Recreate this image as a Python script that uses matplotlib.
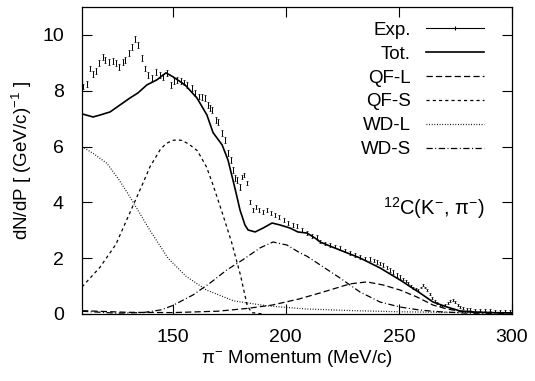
import matplotlib.pyplot as plt
from matplotlib.lines import Line2D

plt.rcParams['font.family'] = ['Liberation Sans', 'DejaVu Sans']
plt.rcParams['mathtext.fontset'] = 'custom'
plt.rcParams['mathtext.rm'] = 'Liberation Sans'
plt.rcParams['mathtext.it'] = 'Liberation Sans:italic'
plt.rcParams['mathtext.bf'] = 'Liberation Sans:bold'

exp_x = [110.5, 112.2, 113.5, 114.9, 116.2, 117.5, 119.3, 120.2, 121.9, 123.7,
         125.0, 126.3, 128.1, 129.0, 130.8, 132.1, 133.4, 134.7, 136.5, 137.8,
         139.2, 140.9, 142.7, 144.5, 145.8, 147.6, 149.3, 150.7, 152.0, 153.7,
         155.1, 156.4, 158.6, 159.9, 161.7, 163.0, 164.4, 165.7, 166.6, 167.4,
         169.2, 170.1, 171.9, 173.2, 174.5, 175.8, 176.7, 177.6, 178.5, 179.8,
         180.7, 181.6, 182.9, 184.2, 185.6, 186.9, 188.2, 190.0, 191.8, 193.5,
         195.3, 197.1, 199.3, 201.0, 203.2, 205.0, 207.2, 209.4, 211.6, 213.8,
         215.2, 217.5, 219.6, 222.0, 224.0, 226.2, 228.4, 230.6, 232.8, 235.0,
         237.3, 239.0, 240.4, 241.7, 243.0, 244.6, 246.1, 247.6, 249.2, 250.5,
         251.8, 253.0, 254.1, 255.2, 256.3, 257.4, 258.5, 259.6, 260.7, 261.6,
         262.5, 263.6, 264.7, 265.8, 266.9, 268.0, 269.1, 270.4, 271.7, 272.8,
         273.9, 275.0, 276.1, 277.2, 278.4, 280.0, 281.5, 283.5, 285.9, 288.0,
         290.3, 292.5, 294.7, 297.0, 299.1]
exp_y = [8.15, 8.24, 8.80, 8.60, 8.70, 9.00, 9.20, 9.10, 9.03, 9.07,
         9.00, 8.85, 9.03, 9.10, 9.35, 9.57, 9.85, 9.64, 9.17, 8.80,
         8.57, 8.46, 8.67, 8.57, 8.50, 8.64, 8.20, 8.35, 8.39, 8.35,
         8.30, 8.20, 8.10, 7.92, 7.80, 7.78, 7.74, 7.49, 7.38, 7.31,
         6.95, 6.88, 6.49, 6.24, 5.77, 5.52, 5.16, 4.87, 4.80, 4.55,
         4.91, 4.98, 4.70, 4.01, 3.73, 3.84, 3.73, 3.66, 3.73, 3.62,
         3.55, 3.48, 3.37, 3.26, 3.19, 3.15, 3.01, 2.90, 2.80, 2.76,
         2.60, 2.52, 2.47, 2.42, 2.37, 2.28, 2.19, 2.12, 2.04, 2.00,
         1.97, 1.92, 1.86, 1.81, 1.76, 1.67, 1.58, 1.50, 1.40, 1.33,
         1.25, 1.18, 1.11, 1.00, 0.93, 0.90, 0.86, 0.95, 1.04, 0.95,
         0.86, 0.70, 0.57, 0.47, 0.39, 0.33, 0.29, 0.33, 0.39, 0.45,
         0.50, 0.42, 0.32, 0.25, 0.20, 0.19, 0.18, 0.16, 0.14, 0.14,
         0.14, 0.12, 0.11, 0.11, 0.11]
exp_err = [0.10] * 50 + [0.08] * 10 + [0.06] * 30 + [0.035] * 35

# total fit
tot_x = [110, 114.9, 118, 122.4, 126.8, 131.2, 134.7, 138.7, 143.1, 147.1,
         150.2, 155.5, 160.8, 165.2, 167.9, 171.9, 174.5, 176.7, 178.5, 179.8,
         182.0, 183.4, 186.5, 190.0, 194.0, 197.5, 201.9, 205.4, 209.4, 213.0,
         215.2, 224.0, 232.8, 241.7, 250.5, 259.4, 265.1, 271.3, 277.0, 282.8,
         290, 300]
tot_y = [7.17, 7.06, 7.13, 7.24, 7.49, 7.74, 7.92, 8.21, 8.39, 8.64,
         8.50, 8.21, 7.74, 7.13, 6.50, 6.06, 5.52, 4.80, 4.19, 3.73,
         3.19, 3.01, 2.94, 3.08, 3.26, 3.19, 3.08, 2.94, 2.90, 2.72,
         2.58, 2.29, 2.01, 1.65, 1.22, 0.75, 0.43, 0.25, 0.11, 0.07,
         0.05, 0.04]

# components
qfl_x = [110, 130, 150, 170, 183, 194, 206, 215, 224, 228.4,
         235.9, 243, 250.5, 258, 265.1, 271.3, 277, 285, 300]
qfl_y = [0.12, 0.06, 0.05, 0.10, 0.20, 0.32, 0.54, 0.75, 0.97, 1.08,
         1.15, 1.04, 0.86, 0.61, 0.32, 0.18, 0.10, 0.06, 0.04]

qfs_x = [110, 118, 125, 131, 137, 140, 144.5, 147, 150, 152, 154,
         157, 161, 165, 168, 172, 176, 180, 183, 185, 190]
qfs_y = [0.97, 1.68, 2.50, 3.60, 4.70, 5.27, 5.88, 6.10, 6.22, 6.24, 6.22,
         6.10, 5.85, 5.27, 4.60, 3.62, 2.60, 1.40, 0.30, 0.05, 0.0]

wdl_x = [110, 115, 121, 126, 130, 133, 140, 148, 156, 165,
         177, 192, 209, 230, 250, 270, 300]
wdl_y = [6.00, 5.75, 5.40, 4.85, 4.35, 3.95, 3.00, 2.00, 1.35, 0.86,
         0.47, 0.29, 0.18, 0.12, 0.08, 0.06, 0.04]

wds_x = [110, 125, 137, 145, 150, 159, 166.6, 174, 181, 188.7,
         194.4, 200.6, 206.3, 209.4, 215.2, 224, 232.8, 241.7, 250.5, 259.4,
         268.2, 280, 300]
wds_y = [0.10, 0.03, 0.05, 0.15, 0.30, 0.68, 1.11, 1.58, 1.94, 2.37,
         2.58, 2.47, 2.19, 2.07, 1.76, 1.29, 0.79, 0.43, 0.25, 0.14,
         0.08, 0.03, 0.02]

fig = plt.figure(figsize=(5.35, 3.81), dpi=100)
ax = fig.add_axes([82 / 535, 67 / 381, 430 / 535, 307 / 381])

ax.errorbar(exp_x, exp_y, yerr=exp_err, fmt='none', ecolor='k',
            elinewidth=0.7, capsize=0.9, capthick=0.5)
tot, = ax.plot(tot_x, tot_y, color='k', lw=1.2)
qfl, = ax.plot(qfl_x, qfl_y, color='k', lw=0.9, dashes=(5, 2.5))
qfs, = ax.plot(qfs_x, qfs_y, color='k', lw=0.9, dashes=(2.5, 2.5))
wdl, = ax.plot(wdl_x, wdl_y, color='k', lw=0.9, dashes=(0.7, 1.4))
wds, = ax.plot(wds_x, wds_y, color='k', lw=0.9, dashes=(5, 2, 0.8, 2))

exp_handle = (Line2D([], [], color='k', lw=0.8),
              Line2D([], [], ls='none', marker='|', ms=3, mew=0.8, color='k'))
ax.legend([exp_handle, tot, qfl, qfs, wdl, wds],
          ['Exp.', 'Tot.', 'QF-L', 'QF-S', 'WD-L', 'WD-S'],
          loc='upper right', bbox_to_anchor=(0.935, 0.952), frameon=False,
          markerfirst=False, handlelength=3.1, handletextpad=0.8,
          labelspacing=0.36, borderpad=0, borderaxespad=0, fontsize=13.5)

ax.text(288, 3.8, '$^{12}$C(K$^{-}$, π$^{-}$)', ha='right', va='center',
        fontsize=14.5)

ax.set_xlim(110, 300)
ax.set_ylim(0, 11)
ax.set_xticks([150, 200, 250, 300])
ax.set_yticks([0, 2, 4, 6, 8, 10])
ax.tick_params(direction='in', top=True, right=True, length=7, width=0.8,
               labelsize=14)
ax.tick_params(axis='x', pad=11)
ax.tick_params(axis='y', pad=13)
for s in ax.spines.values():
    s.set_linewidth(0.9)

ax.set_xlabel('π$^{-}$ Momentum (MeV/c)', fontsize=13.5, labelpad=1)
ax.set_ylabel('dN/dP [ (GeV/c)$^{-1}$ ]', fontsize=13.5, labelpad=6)

fig.savefig('out.png', dpi=100)
